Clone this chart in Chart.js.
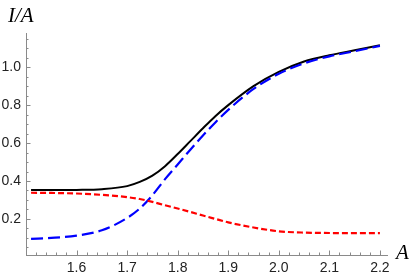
<!DOCTYPE html>
<html>
<head>
<meta charset="utf-8">
<script src="https://cdn.jsdelivr.net/npm/chart.js@4"></script>
<style>
  html, body { margin: 0; padding: 0; background: #fff; }
  #wrap { width: 415px; height: 276px; position: relative; }
</style>
</head>
<body>
<div id="wrap"><canvas id="c"></canvas></div>
<script>
// ── Data ─────────────────────────────────────────────────────────────────────
const xs    = [1.51, 1.55, 1.60, 1.65, 1.70, 1.725, 1.75, 1.775, 1.80, 1.825, 1.85, 1.875, 1.90, 1.95, 2.00, 2.05, 2.10, 2.15, 2.20];
const total = [0.352, 0.352, 0.353, 0.357, 0.373, 0.395, 0.428, 0.478, 0.542, 0.610, 0.678, 0.743, 0.800, 0.900, 0.975, 1.030, 1.063, 1.089, 1.115];
const blue  = [0.095, 0.100, 0.112, 0.140, 0.205, 0.255, 0.325, 0.410, 0.487, 0.565, 0.640, 0.710, 0.775, 0.885, 0.965, 1.020, 1.057, 1.084, 1.112];
const red   = [0.338, 0.337, 0.334, 0.327, 0.315, 0.305, 0.290, 0.272, 0.255, 0.237, 0.218, 0.200, 0.182, 0.155, 0.135, 0.128, 0.126, 0.125, 0.125];

const xTicks = [1.6, 1.7, 1.8, 1.9, 2.0, 2.1, 2.2];
const yTicks = [0.2, 0.4, 0.6, 0.8, 1.0];

const AXIS = '#8a8a8a';
const pts = ys => xs.map((x, i) => ({ x, y: ys[i] }));

// Mathematica-style inward ticks + axis labels
const frame = {
    id: 'frame',
    afterDraw(chart) {
        const { ctx, chartArea: a, scales: { x, y } } = chart;
        ctx.save();
        ctx.strokeStyle = AXIS;
        ctx.lineWidth = 1;
        ctx.beginPath();
        for (let v = 1.52; v <= x.max + 1e-9; v += 0.02) {
            const px = Math.round(x.getPixelForValue(v)) + 0.5;
            const major = Math.abs(v * 10 - Math.round(v * 10)) < 1e-6;
            ctx.moveTo(px, a.bottom);
            ctx.lineTo(px, a.bottom - (major ? 4.5 : 2.5));
        }
        for (let v = 0.05; v <= y.max + 1e-9; v += 0.05) {
            const py = Math.round(y.getPixelForValue(v)) + 0.5;
            const major = Math.abs(v * 5 - Math.round(v * 5)) < 1e-6;
            ctx.moveTo(a.left, py);
            ctx.lineTo(a.left + (major ? 4.5 : 2.5), py);
        }
        ctx.stroke();
        ctx.fillStyle = '#000';
        ctx.font = 'italic 21px "Liberation Serif"';
        ctx.textBaseline = 'alphabetic';
        ctx.textAlign = 'left';
        ctx.fillText('I/A', 8, 22);
        ctx.fillText('A', 396, 259);
        ctx.restore();
    }
};

new Chart(document.getElementById('c'), {
    type: 'scatter',
    data: { datasets: [
        { label: 'red',   data: pts(red),   borderColor: '#ff0000', borderWidth: 2.2, borderDash: [6, 3],  showLine: true, pointRadius: 0, cubicInterpolationMode: 'monotone', fill: false },
        { label: 'blue',  data: pts(blue),  borderColor: '#0000ff', borderWidth: 2.2, borderDash: [12, 5], showLine: true, pointRadius: 0, cubicInterpolationMode: 'monotone', fill: false },
        { label: 'total', data: pts(total), borderColor: '#000000', borderWidth: 2,   showLine: true, pointRadius: 0, cubicInterpolationMode: 'monotone', fill: false },
    ]},
    options: {
        responsive: true, maintainAspectRatio: false, animation: false,
        layout: { padding: { top: 33, right: 28, left: 0, bottom: 0 } },
        plugins: { legend: { display: false }, tooltip: { enabled: false } },
        scales: {
            x: {
                type: 'linear', min: 1.5, max: 2.214,
                afterBuildTicks: s => { s.ticks = xTicks.map(v => ({ value: v })); },
                afterFit: s => { s.height = 21; },
                grid: { display: false, drawTicks: false },
                border: { display: true, color: AXIS, width: 1 },
                ticks: { color: '#222', padding: 5, maxRotation: 0, font: { family: '"Liberation Sans"', size: 14 }, callback: v => v.toFixed(1) },
            },
            y: {
                min: 0.01, max: 1.18,
                afterBuildTicks: s => { s.ticks = yTicks.map(v => ({ value: v })); },
                afterFit: s => { s.width = 26; },
                grid: { display: false, drawTicks: false },
                border: { display: true, color: AXIS, width: 1 },
                ticks: { color: '#222', padding: 5, font: { family: '"Liberation Sans"', size: 14 }, callback: v => v.toFixed(1) },
            },
        },
    },
    plugins: [frame],
});
</script>
</body>
</html>
